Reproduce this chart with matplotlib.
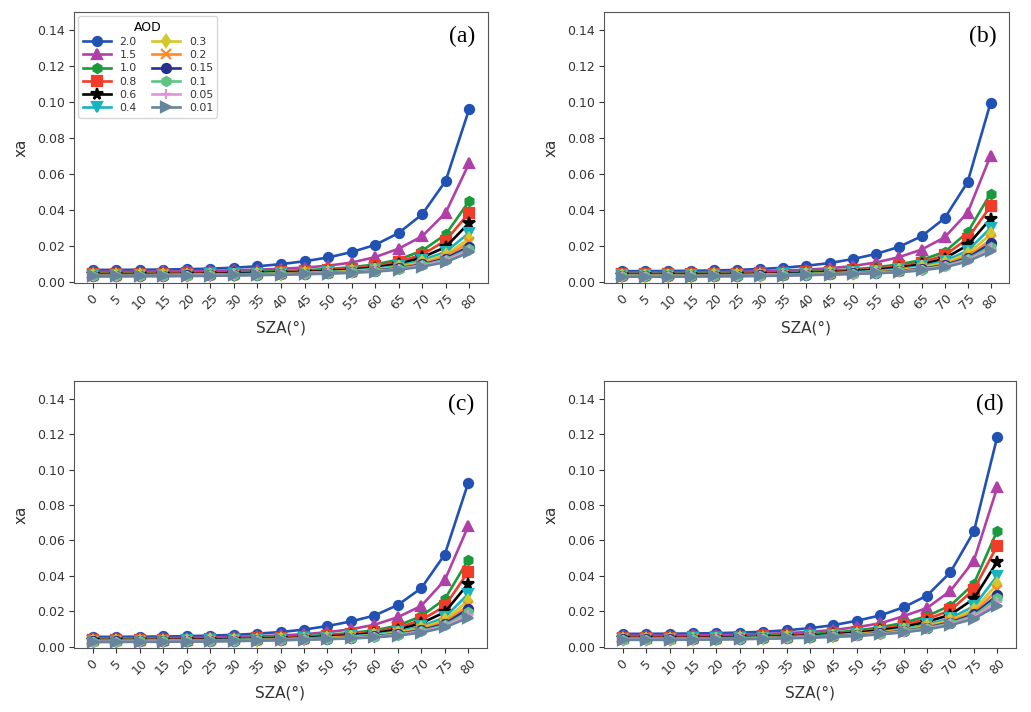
import matplotlib
matplotlib.use("Agg")
from matplotlib import pyplot as plt

sza = [0, 5, 10, 15, 20, 25, 30, 35, 40, 45, 50, 55, 60, 65, 70, 75, 80]
aod_labels = ["2.0", "1.5", "1.0", "0.8", "0.6", "0.4",
              "0.3", "0.2", "0.15", "0.1", "0.05", "0.01"]
colors = ["#2152b3", "#b040a8", "#1a9a3c", "#f03c28", "#000000", "#17b4c0",
          "#d2c82a", "#ff8a2a", "#25308f", "#5ec483", "#e293d6", "#66849b"]
markers = ["o", "^", "h", "s", "*", "v", "d", "x", "o", "h", "+", ">"]
panel_tags = ["(a)", "(b)", "(c)", "(d)"]

xa_a = [
    [0.0065, 0.0065, 0.0066, 0.0067, 0.0069, 0.0072, 0.0077, 0.0085, 0.0097, 0.0113, 0.0134, 0.0164, 0.0204, 0.0270, 0.0374, 0.0560, 0.0960],
    [0.0055, 0.0055, 0.0055, 0.0056, 0.0057, 0.0059, 0.0062, 0.0066, 0.0071, 0.0078, 0.0088, 0.0106, 0.0136, 0.0183, 0.0252, 0.0383, 0.0659],
    [0.0047, 0.0047, 0.0047, 0.0048, 0.0049, 0.0050, 0.0052, 0.0055, 0.0058, 0.0063, 0.0070, 0.0080, 0.0095, 0.0122, 0.0172, 0.0262, 0.0448],
    [0.0043, 0.0043, 0.0043, 0.0044, 0.0045, 0.0046, 0.0048, 0.0050, 0.0053, 0.0057, 0.0063, 0.0072, 0.0086, 0.0110, 0.0150, 0.0228, 0.0383],
    [0.0040, 0.0040, 0.0040, 0.0041, 0.0042, 0.0043, 0.0045, 0.0047, 0.0050, 0.0053, 0.0058, 0.0066, 0.0078, 0.0098, 0.0134, 0.0192, 0.0327],
    [0.0037, 0.0037, 0.0037, 0.0038, 0.0039, 0.0040, 0.0041, 0.0043, 0.0046, 0.0049, 0.0054, 0.0061, 0.0071, 0.0088, 0.0118, 0.0166, 0.0271],
    [0.0035, 0.0035, 0.0035, 0.0036, 0.0037, 0.0038, 0.0039, 0.0041, 0.0044, 0.0047, 0.0051, 0.0058, 0.0067, 0.0082, 0.0108, 0.0150, 0.0239],
    [0.0033, 0.0033, 0.0034, 0.0034, 0.0035, 0.0036, 0.0038, 0.0040, 0.0042, 0.0045, 0.0049, 0.0055, 0.0063, 0.0077, 0.0100, 0.0138, 0.0218],
    [0.0032, 0.0032, 0.0033, 0.0033, 0.0034, 0.0035, 0.0037, 0.0039, 0.0041, 0.0044, 0.0048, 0.0053, 0.0061, 0.0074, 0.0095, 0.0128, 0.0195],
    [0.0031, 0.0031, 0.0032, 0.0032, 0.0033, 0.0034, 0.0036, 0.0038, 0.0040, 0.0043, 0.0047, 0.0052, 0.0059, 0.0071, 0.0091, 0.0121, 0.0182],
    [0.0030, 0.0030, 0.0031, 0.0031, 0.0032, 0.0033, 0.0035, 0.0037, 0.0039, 0.0042, 0.0045, 0.0050, 0.0057, 0.0068, 0.0087, 0.0115, 0.0172],
    [0.0029, 0.0029, 0.0030, 0.0030, 0.0031, 0.0032, 0.0034, 0.0036, 0.0038, 0.0041, 0.0044, 0.0049, 0.0055, 0.0066, 0.0083, 0.0108, 0.0162],
]

xa_b = [
    [0.0058, 0.0058, 0.0059, 0.0060, 0.0062, 0.0065, 0.0070, 0.0077, 0.0088, 0.0103, 0.0125, 0.0153, 0.0192, 0.0252, 0.0352, 0.0553, 0.0995],
    [0.0050, 0.0050, 0.0050, 0.0051, 0.0052, 0.0054, 0.0057, 0.0061, 0.0066, 0.0074, 0.0086, 0.0106, 0.0135, 0.0178, 0.0246, 0.0383, 0.0700],
    [0.0043, 0.0043, 0.0043, 0.0044, 0.0045, 0.0046, 0.0048, 0.0051, 0.0055, 0.0060, 0.0068, 0.0079, 0.0095, 0.0120, 0.0165, 0.0274, 0.0490],
    [0.0040, 0.0040, 0.0040, 0.0041, 0.0042, 0.0043, 0.0045, 0.0047, 0.0051, 0.0055, 0.0062, 0.0071, 0.0085, 0.0106, 0.0146, 0.0238, 0.0420],
    [0.0037, 0.0037, 0.0037, 0.0038, 0.0039, 0.0040, 0.0042, 0.0044, 0.0047, 0.0051, 0.0057, 0.0065, 0.0077, 0.0095, 0.0128, 0.0202, 0.0350],
    [0.0034, 0.0034, 0.0034, 0.0035, 0.0036, 0.0037, 0.0039, 0.0041, 0.0043, 0.0047, 0.0052, 0.0059, 0.0069, 0.0085, 0.0113, 0.0172, 0.0298],
    [0.0032, 0.0032, 0.0033, 0.0033, 0.0034, 0.0035, 0.0037, 0.0039, 0.0041, 0.0045, 0.0049, 0.0055, 0.0064, 0.0079, 0.0104, 0.0155, 0.0262],
    [0.0031, 0.0031, 0.0031, 0.0032, 0.0033, 0.0034, 0.0035, 0.0037, 0.0040, 0.0043, 0.0047, 0.0052, 0.0060, 0.0073, 0.0096, 0.0140, 0.0232],
    [0.0030, 0.0030, 0.0030, 0.0031, 0.0032, 0.0033, 0.0034, 0.0036, 0.0039, 0.0042, 0.0045, 0.0050, 0.0058, 0.0070, 0.0091, 0.0131, 0.0212],
    [0.0029, 0.0029, 0.0029, 0.0030, 0.0031, 0.0032, 0.0033, 0.0035, 0.0038, 0.0041, 0.0044, 0.0049, 0.0056, 0.0067, 0.0087, 0.0124, 0.0195],
    [0.0028, 0.0028, 0.0028, 0.0029, 0.0030, 0.0031, 0.0032, 0.0034, 0.0037, 0.0040, 0.0043, 0.0048, 0.0054, 0.0064, 0.0083, 0.0118, 0.0180],
    [0.0027, 0.0027, 0.0027, 0.0028, 0.0029, 0.0030, 0.0031, 0.0033, 0.0036, 0.0039, 0.0042, 0.0046, 0.0052, 0.0062, 0.0079, 0.0112, 0.0168],
]

xa_c = [
    [0.0055, 0.0055, 0.0056, 0.0057, 0.0059, 0.0062, 0.0066, 0.0073, 0.0082, 0.0096, 0.0116, 0.0142, 0.0175, 0.0235, 0.0330, 0.0520, 0.0925],
    [0.0047, 0.0047, 0.0047, 0.0048, 0.0049, 0.0051, 0.0054, 0.0058, 0.0063, 0.0070, 0.0081, 0.0098, 0.0123, 0.0166, 0.0230, 0.0375, 0.0680],
    [0.0041, 0.0041, 0.0041, 0.0042, 0.0043, 0.0044, 0.0046, 0.0049, 0.0053, 0.0058, 0.0066, 0.0077, 0.0092, 0.0118, 0.0172, 0.0268, 0.0490],
    [0.0038, 0.0038, 0.0038, 0.0039, 0.0040, 0.0041, 0.0043, 0.0046, 0.0049, 0.0054, 0.0060, 0.0070, 0.0084, 0.0106, 0.0150, 0.0228, 0.0422],
    [0.0036, 0.0036, 0.0036, 0.0037, 0.0038, 0.0039, 0.0041, 0.0043, 0.0046, 0.0050, 0.0056, 0.0064, 0.0076, 0.0096, 0.0132, 0.0194, 0.0355],
    [0.0033, 0.0033, 0.0033, 0.0034, 0.0035, 0.0036, 0.0038, 0.0040, 0.0043, 0.0046, 0.0051, 0.0058, 0.0068, 0.0085, 0.0114, 0.0165, 0.0297],
    [0.0032, 0.0032, 0.0032, 0.0033, 0.0034, 0.0035, 0.0036, 0.0038, 0.0041, 0.0044, 0.0049, 0.0055, 0.0064, 0.0079, 0.0105, 0.0150, 0.0259],
    [0.0030, 0.0030, 0.0031, 0.0031, 0.0032, 0.0033, 0.0035, 0.0037, 0.0040, 0.0043, 0.0047, 0.0052, 0.0060, 0.0074, 0.0097, 0.0138, 0.0232],
    [0.0029, 0.0029, 0.0030, 0.0030, 0.0031, 0.0032, 0.0034, 0.0036, 0.0039, 0.0042, 0.0045, 0.0050, 0.0058, 0.0071, 0.0092, 0.0128, 0.0213],
    [0.0028, 0.0028, 0.0029, 0.0029, 0.0030, 0.0031, 0.0033, 0.0035, 0.0038, 0.0041, 0.0044, 0.0049, 0.0056, 0.0068, 0.0087, 0.0120, 0.0195],
    [0.0027, 0.0027, 0.0028, 0.0028, 0.0029, 0.0030, 0.0032, 0.0034, 0.0037, 0.0040, 0.0043, 0.0047, 0.0054, 0.0065, 0.0083, 0.0114, 0.0178],
    [0.0026, 0.0026, 0.0027, 0.0027, 0.0028, 0.0029, 0.0031, 0.0033, 0.0036, 0.0039, 0.0042, 0.0046, 0.0052, 0.0062, 0.0079, 0.0108, 0.0163],
]

xa_d = [
    [0.0072, 0.0072, 0.0073, 0.0074, 0.0076, 0.0079, 0.0084, 0.0092, 0.0104, 0.0121, 0.0146, 0.0176, 0.0222, 0.0288, 0.0420, 0.0650, 0.1185],
    [0.0062, 0.0062, 0.0062, 0.0063, 0.0065, 0.0067, 0.0071, 0.0076, 0.0083, 0.0094, 0.0110, 0.0131, 0.0172, 0.0218, 0.0315, 0.0485, 0.0900],
    [0.0054, 0.0054, 0.0054, 0.0055, 0.0056, 0.0058, 0.0061, 0.0065, 0.0071, 0.0079, 0.0091, 0.0109, 0.0134, 0.0172, 0.0232, 0.0355, 0.0655],
    [0.0051, 0.0051, 0.0051, 0.0052, 0.0053, 0.0055, 0.0058, 0.0061, 0.0066, 0.0074, 0.0084, 0.0100, 0.0122, 0.0155, 0.0205, 0.0322, 0.0570],
    [0.0048, 0.0048, 0.0048, 0.0049, 0.0050, 0.0052, 0.0054, 0.0058, 0.0062, 0.0069, 0.0078, 0.0092, 0.0110, 0.0140, 0.0180, 0.0270, 0.0480],
    [0.0045, 0.0045, 0.0045, 0.0046, 0.0047, 0.0049, 0.0051, 0.0054, 0.0058, 0.0064, 0.0072, 0.0084, 0.0100, 0.0125, 0.0160, 0.0228, 0.0400],
    [0.0043, 0.0043, 0.0043, 0.0044, 0.0045, 0.0047, 0.0049, 0.0052, 0.0056, 0.0061, 0.0069, 0.0080, 0.0095, 0.0117, 0.0150, 0.0208, 0.0352],
    [0.0042, 0.0042, 0.0042, 0.0043, 0.0044, 0.0046, 0.0048, 0.0051, 0.0055, 0.0060, 0.0067, 0.0077, 0.0091, 0.0111, 0.0142, 0.0193, 0.0320],
    [0.0041, 0.0041, 0.0041, 0.0042, 0.0043, 0.0045, 0.0047, 0.0050, 0.0054, 0.0059, 0.0066, 0.0075, 0.0088, 0.0107, 0.0136, 0.0182, 0.0290],
    [0.0040, 0.0040, 0.0040, 0.0041, 0.0042, 0.0044, 0.0046, 0.0049, 0.0053, 0.0058, 0.0064, 0.0073, 0.0086, 0.0104, 0.0131, 0.0174, 0.0272],
    [0.0039, 0.0039, 0.0039, 0.0040, 0.0041, 0.0043, 0.0045, 0.0048, 0.0052, 0.0056, 0.0062, 0.0071, 0.0083, 0.0100, 0.0126, 0.0165, 0.0252],
    [0.0038, 0.0038, 0.0038, 0.0039, 0.0040, 0.0042, 0.0044, 0.0047, 0.0050, 0.0055, 0.0060, 0.0069, 0.0080, 0.0097, 0.0121, 0.0157, 0.0232],
]

W, H = 1031, 712
# axes boxes in pixels: left, right, top, bottom
boxes = [(74, 488, 12, 283), (604, 1009, 12, 283),
         (74, 487, 381, 648), (604, 1016, 381, 648)]

plt.rcParams["font.family"] = "DejaVu Sans"
text_col = "#333333"

fig = plt.figure(figsize=(W / 100, H / 100), dpi=100)

for i, data in enumerate([xa_a, xa_b, xa_c, xa_d]):
    l, r, t, b = boxes[i]
    ax = fig.add_axes([l / W, 1 - b / H, (r - l) / W, (b - t) / H])
    for j, ys in enumerate(data):
        ms = 8.5 if markers[j] == "*" else 6.5
        ax.plot(sza, ys, color=colors[j], marker=markers[j], lw=1.9,
                ms=ms, mew=1.6, label=aod_labels[j])
    ax.set_ylim(-0.0008, 0.15)
    ax.set_yticks([0.0, 0.02, 0.04, 0.06, 0.08, 0.10, 0.12, 0.14])
    ax.set_yticklabels([f"{v:.2f}" for v in ax.get_yticks()])
    ax.set_xticks(sza)
    ax.set_xticklabels([str(s) for s in sza], rotation=45)
    ax.tick_params(labelsize=9, colors=text_col, pad=3)
    for sp in ax.spines.values():
        sp.set_color("#555555")
    ax.set_xlabel("SZA(°)", fontsize=11, color=text_col, labelpad=6)
    ax.set_ylabel("xa", fontsize=11, color=text_col, labelpad=6)
    ax.text(0.97, 0.95, panel_tags[i], transform=ax.transAxes, ha="right",
            va="top", fontsize=17, family="Liberation Serif")
    if i == 0:
        leg = ax.legend(title="AOD", ncol=2, loc="upper left", fontsize=7.8,
                        title_fontsize=9, handlelength=2.6,
                        columnspacing=1.4, labelspacing=0.3,
                        borderaxespad=0.4)
        for txt in leg.get_texts():
            txt.set_color(text_col)

fig.savefig("out.png", dpi=100)
